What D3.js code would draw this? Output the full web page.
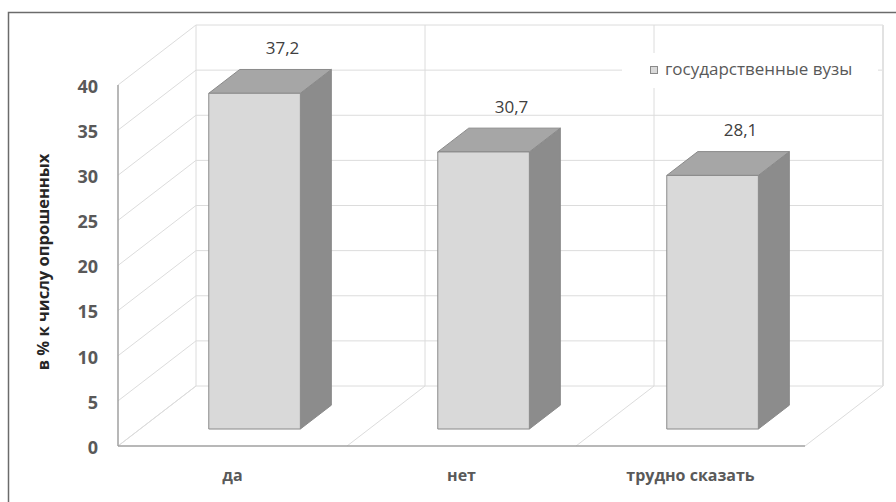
<!DOCTYPE html>
<html>
<head>
<meta charset="utf-8">
<script src="https://cdn.jsdelivr.net/npm/d3@7"></script>
<style>
  html, body { margin: 0; padding: 0; background: #fff; }
  svg { display: block; }
</style>
</head>
<body>
<svg id="chart" width="896" height="502"></svg>
<script>
// Survey answers, share of respondents (%)
const categories = ["да", "нет", "трудно сказать"];
const values = [37.2, 30.7, 28.1];
const valueLabels = ["37,2", "30,7", "28,1"];
const yTicks = [0, 5, 10, 15, 20, 25, 30, 35, 40];
const seriesName = "государственные вузы";
const axisTitle = "в % к числу опрошенных";

const FONT = "'Open Sans', 'DejaVu Sans', sans-serif";
const svg = d3.select("#chart");

// Oblique 3D frame: front plane origin, plot size and depth offset
const origin = { x: 118, y: 446 };
const plotW = 687, plotH = 361;
const depth = { dx: 78, dy: -60 };

const x = d3.scaleBand().domain(categories).range([0, plotW]).padding(0);
const y = d3.scaleLinear().domain([0, 40]).range([0, plotH]);

// project (horizontal offset, value, depth fraction 0..1) to screen
function P(px, v, d) {
  return [origin.x + px + d * depth.dx, origin.y - y(v) + d * depth.dy];
}
const poly = pts => "M" + pts.map(p => p.join(",")).join("L") + "Z";

// Outer frame
svg.append("rect")
  .attr("x", 8.5).attr("y", 12.5).attr("width", 900).attr("height", 500)
  .attr("fill", "none").attr("stroke", "#6b6b6b").attr("stroke-width", 1.5);

const grid = svg.append("g").attr("fill", "none").attr("stroke", "#dcdcdc").attr("stroke-width", 1);

// Back wall horizontal gridlines and side wall diagonals
yTicks.forEach(t => {
  const a = P(0, t, 1), b = P(plotW, t, 1), f = P(0, t, 0);
  grid.append("line").attr("x1", a[0]).attr("y1", a[1]).attr("x2", b[0]).attr("y2", b[1]);
  grid.append("line").attr("x1", f[0]).attr("y1", f[1]).attr("x2", a[0]).attr("y2", a[1]);
});

// Back wall verticals at category boundaries and floor dividers
const bounds = categories.map(c => x(c)).concat([plotW]);
bounds.forEach(bx => {
  const top = P(bx, 40, 1), bot = P(bx, 0, 1), fr = P(bx, 0, 0);
  grid.append("line").attr("x1", top[0]).attr("y1", top[1]).attr("x2", bot[0]).attr("y2", bot[1]);
  grid.append("line").attr("x1", bot[0]).attr("y1", bot[1]).attr("x2", fr[0]).attr("y2", fr[1]);
});
// right wall edge slightly heavier
{
  const top = P(plotW, 40, 1), bot = P(plotW, 0, 1);
  grid.append("line").attr("x1", top[0]).attr("y1", top[1]).attr("x2", bot[0]).attr("y2", bot[1])
    .attr("stroke-width", 2).attr("stroke", "#e2e2e2");
}

// Front axis lines
const axis = svg.append("g").attr("stroke", "#a0a0a0").attr("stroke-width", 1.5).attr("fill", "none");
{
  const a = P(0, 0, 0), b = P(0, 40, 0), c = P(plotW, 0, 0);
  axis.append("line").attr("x1", a[0]).attr("y1", a[1]).attr("x2", b[0]).attr("y2", b[1]);
  axis.append("line").attr("x1", a[0]).attr("y1", a[1]).attr("x2", c[0]).attr("y2", c[1]);
}

// Y tick labels
svg.append("g").selectAll("text").data(yTicks).join("text")
  .attr("x", 98).attr("y", t => P(0, t, 0)[1] + 3)
  .attr("text-anchor", "end").attr("dominant-baseline", "middle")
  .attr("font-family", FONT)
  .attr("font-weight", "bold").attr("font-size", 18).attr("fill", "#595959")
  .text(d => d);

// Axis title
svg.append("text")
  .attr("transform", "translate(49,262) rotate(-90)")
  .attr("text-anchor", "middle")
  .attr("font-family", FONT)
  .attr("font-weight", "bold").attr("font-size", 16.5).attr("fill", "#262626")
  .text(axisTitle);

// Bars as boxes
const barFrac = 0.40;
const dFront = 0.283, dBack = 0.68;
const bars = svg.append("g").attr("stroke", "#8a8a8a").attr("stroke-width", 1).attr("stroke-linejoin", "round");
categories.forEach((c, i) => {
  const w = x.bandwidth() * barFrac;
  const x0 = x(c) + (x.bandwidth() - w) / 2, x1 = x0 + w;
  const v = values[i];
  const g = bars.append("g");
  // side
  g.append("path").attr("fill", "#8c8c8c")
    .attr("d", poly([P(x1, 0, dFront), P(x1, 0, dBack), P(x1, v, dBack), P(x1, v, dFront)]));
  // top
  g.append("path").attr("fill", "#a6a6a6")
    .attr("d", poly([P(x0, v, dFront), P(x1, v, dFront), P(x1, v, dBack), P(x0, v, dBack)]));
  // front
  g.append("path").attr("fill", "#d9d9d9")
    .attr("d", poly([P(x0, 0, dFront), P(x1, 0, dFront), P(x1, v, dFront), P(x0, v, dFront)]));
  // value label
  const top = P((x0 + x1) / 2, v, dFront);
  svg.append("text")
    .attr("x", top[0] + 28).attr("y", top[1] - 39)
    .attr("text-anchor", "middle")
    .attr("font-family", FONT)
    .attr("font-size", 17).attr("fill", "#404040")
    .text(valueLabels[i]);
});

// Category labels
svg.append("g").selectAll("text").data(categories).join("text")
  .attr("x", c => P(x(c) + x.bandwidth() / 2, 0, 0)[0])
  .attr("y", 481)
  .attr("text-anchor", "middle")
  .attr("font-family", FONT)
  .attr("font-weight", "bold").attr("font-size", 16).attr("fill", "#595959")
  .text(d => d);

// Legend
const lg = svg.append("g");
lg.append("rect").attr("x", 622).attr("y", 53).attr("width", 256).attr("height", 35).attr("fill", "#fff");
lg.append("rect").attr("x", 650.5).attr("y", 66.5).attr("width", 7).attr("height", 7)
  .attr("fill", "#d9d9d9").attr("stroke", "#8a8a8a").attr("stroke-width", 1);
lg.append("text").attr("x", 665).attr("y", 70).attr("dominant-baseline", "middle")
  .attr("font-family", FONT)
  .attr("font-size", 17).attr("fill", "#595959")
  .text(seriesName);
</script>
</body>
</html>
